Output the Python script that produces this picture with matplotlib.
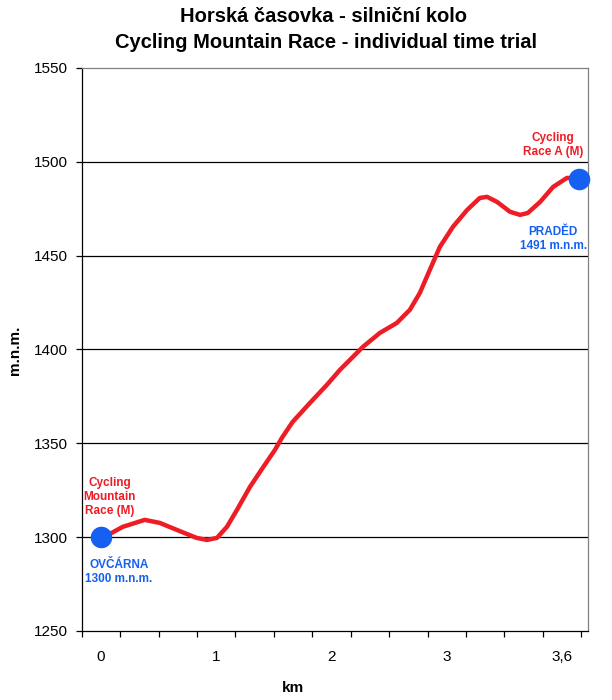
#!/usr/bin/env python
# -*- coding: utf-8 -*-

"""
Elevation profile of the mountain time trial (Ovčárna - Praděd).
"""

# Third party modules.
import matplotlib
matplotlib.use("Agg")
import matplotlib.pyplot as plt

# Globals and constants variables.
plt.rcParams["font.family"] = ["Liberation Sans", "DejaVu Sans"]

TITLE_1 = "Horská časovka - silniční kolo"
TITLE_2 = "Cycling Mountain Race - individual time trial"

# profile: position on the category axis, elevation in m
position = [0.50, 0.73, 1.07, 1.64, 2.03, 2.47, 2.99, 3.26, 3.52, 3.78,
            4.04, 4.38, 4.71, 5.03, 5.21, 5.49, 5.94, 6.38, 6.72, 7.32,
            7.76, 8.20, 8.54, 8.80, 9.06, 9.32, 9.66, 10.03, 10.36, 10.55,
            10.81, 11.15, 11.41, 11.61, 11.93, 12.27, 12.63, 12.94]
elevation = [1300.0, 1301.7, 1305.5, 1309.2, 1307.6, 1303.9, 1299.6, 1298.5,
             1299.6, 1305.5, 1314.5, 1326.8, 1336.9, 1346.5, 1352.9, 1361.4,
             1371.5, 1381.1, 1389.1, 1401.4, 1408.8, 1414.1, 1421.1, 1430.1,
             1442.4, 1454.6, 1465.3, 1474.3, 1480.7, 1481.3, 1478.6, 1473.3,
             1471.7, 1472.7, 1478.6, 1486.6, 1491.4, 1491.0]

# start and finish points
point_pos = [0.50, 12.94]
point_elev = [1300, 1491]

km_labels = ["0", "1", "2", "3", "3,6"]
km_label_pos = [0.5, 3.5, 6.5, 9.5, 12.5]
n_categories = 13
x_max = 13.18

y_ticks = [1250, 1300, 1350, 1400, 1450, 1500, 1550]

RED = "#ee1c25"
BLUE = "#1560f0"


def run():
    fig = plt.figure(figsize=(6.12, 7.0), dpi=100)
    ax = fig.add_axes([0.1335, 0.0986, 0.8275, 0.8044])

    ax.set_xlim(0, x_max)
    ax.set_ylim(y_ticks[0], y_ticks[-1])

    for y in y_ticks[1:-1]:
        ax.axhline(y, color="black", lw=0.9, zorder=1)

    ax.plot(position, elevation, color=RED, lw=3.2, solid_capstyle="round",
            solid_joinstyle="round", zorder=3)
    ax.plot(point_pos, point_elev, "o", color=BLUE, ms=14.5, mec=BLUE,
            clip_on=False, zorder=4)

    # annotations
    ax.text(0.73, 1321.4, "Cycling\nMountain\nRace (M)", color=RED,
            fontsize=8.5, fontweight="bold", ha="center", va="center",
            multialignment="center", linespacing=1.25)
    ax.text(0.97, 1281.5, "OVČÁRNA\n1300 m.n.m.", color=BLUE,
            fontsize=8.5, fontweight="bold", ha="center", va="center",
            multialignment="center", linespacing=1.25)
    ax.text(12.27, 1509, "Cycling\nRace A (M)", color=RED,
            fontsize=8.5, fontweight="bold", ha="center", va="center",
            multialignment="center", linespacing=1.25)
    ax.text(12.27, 1458.9, "PRADĚD\n1491 m.n.m.", color=BLUE,
            fontsize=8.5, fontweight="bold", ha="center", va="center",
            multialignment="center", linespacing=1.25)

    # axes styling
    for side in ["top", "right"]:
        ax.spines[side].set_color("#808080")
        ax.spines[side].set_linewidth(0.9)
    for side in ["left", "bottom"]:
        ax.spines[side].set_color("black")
        ax.spines[side].set_linewidth(0.9)

    ax.set_yticks(y_ticks)
    ax.tick_params(axis="y", direction="out", length=4, width=0.9, pad=6,
                   labelsize=11)

    ax.set_xticks(range(n_categories + 1))
    ax.set_xticklabels([])
    ax.set_xticks(km_label_pos, minor=True)
    ax.set_xticklabels(km_labels, minor=True)
    ax.tick_params(axis="x", which="major", direction="out", length=4,
                   width=0.9)
    ax.tick_params(axis="x", which="minor", length=0, pad=14, labelsize=11)

    ax.set_xlabel("km", fontsize=11, fontweight="bold", va="center")
    ax.xaxis.set_label_coords(0.417, -0.101)
    ax.set_ylabel("m.n.m.", fontsize=11, fontweight="bold", va="center")
    ax.yaxis.set_label_coords(-0.132, 0.499)

    fig.text(0.528, 1 - 17 / 700, TITLE_1, fontsize=14.5, fontweight="bold",
             ha="center", va="center")
    fig.text(0.532, 1 - 43 / 700, TITLE_2, fontsize=14.5, fontweight="bold",
             ha="center", va="center")

    fig.savefig("out.png", dpi=100, facecolor="white")


def main():
    run()


if __name__ == '__main__':  # pragma: no cover
    main()
